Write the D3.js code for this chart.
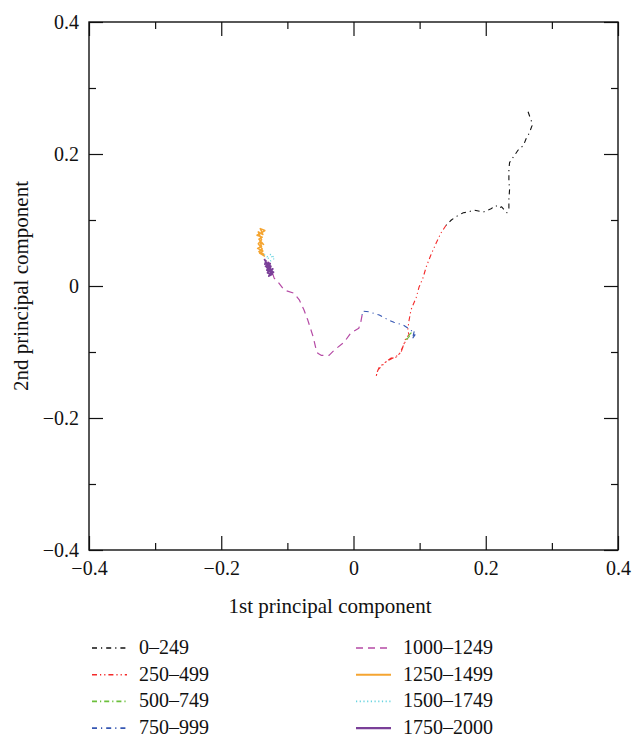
<!DOCTYPE html>
<html>
<head>
<meta charset="utf-8">
<script src="https://cdn.jsdelivr.net/npm/d3@7"></script>
<style>
    body { margin: 0; background: #ffffff; }
    svg text { font-family: "Liberation Serif", "DejaVu Serif", serif; fill: #111; }
</style>
</head>
<body>
<div id="chart"></div>
<script>

// series labels, in time order
let seriesNames = ["0\u2013249", "250\u2013499", "500\u2013749", "750\u2013999",
    "1000\u20131249", "1250\u20131499", "1500\u20131749", "1750\u20132000"];

// [1st PC, 2nd PC]
let pts_0_249 = [
    [0.264, 0.264], [0.269, 0.250], [0.270, 0.243], [0.266, 0.232], [0.261, 0.223],
    [0.257, 0.213], [0.249, 0.206], [0.242, 0.196], [0.236, 0.187], [0.235, 0.176],
    [0.235, 0.161], [0.236, 0.146], [0.235, 0.131], [0.235, 0.118], [0.232, 0.111],
    [0.224, 0.120], [0.220, 0.118], [0.215, 0.122], [0.208, 0.117], [0.203, 0.115],
    [0.196, 0.112], [0.182, 0.115], [0.173, 0.112], [0.166, 0.111], [0.155, 0.105],
    [0.148, 0.100], [0.140, 0.092]
];
let pts_250_499 = [
    [0.140, 0.092], [0.132, 0.080], [0.125, 0.065], [0.117, 0.047], [0.110, 0.029],
    [0.105, 0.012], [0.099, -0.002], [0.095, -0.017], [0.087, -0.036], [0.084, -0.052],
    [0.082, -0.067], [0.084, -0.074], [0.079, -0.079], [0.076, -0.089], [0.072, -0.100],
    [0.064, -0.108], [0.057, -0.109], [0.046, -0.117], [0.039, -0.123], [0.036, -0.130],
    [0.034, -0.138], [0.037, -0.127], [0.049, -0.115], [0.069, -0.104], [0.078, -0.085],
    [0.085, -0.076]
];
let pts_500_749 = [
    [0.085, -0.076], [0.081, -0.080], [0.078, -0.083], [0.082, -0.077], [0.087, -0.071],
    [0.090, -0.076]
];
let pts_750_999 = [
    [0.090, -0.076], [0.092, -0.068], [0.089, -0.080], [0.093, -0.074], [0.087, -0.067],
    [0.075, -0.059], [0.061, -0.055], [0.054, -0.052], [0.039, -0.044], [0.023, -0.039],
    [0.014, -0.038], [0.013, -0.044]
];
let pts_1000_1249 = [
    [0.013, -0.044], [0.011, -0.055], [0.008, -0.064], [-0.004, -0.071], [-0.014, -0.085],
    [-0.029, -0.097], [-0.037, -0.105], [-0.049, -0.105], [-0.054, -0.102], [-0.057, -0.094],
    [-0.061, -0.077], [-0.069, -0.052], [-0.075, -0.036], [-0.082, -0.021], [-0.090, -0.011],
    [-0.105, -0.006], [-0.114, 0.006], [-0.120, 0.012], [-0.126, 0.030], [-0.132, 0.042]
];
let pts_1250_1499 = [
    [-0.134, 0.045], [-0.142, 0.050], [-0.137, 0.053], [-0.145, 0.057], [-0.139, 0.060],
    [-0.141, 0.066], [-0.136, 0.063], [-0.143, 0.071], [-0.138, 0.074], [-0.146, 0.077],
    [-0.140, 0.080], [-0.134, 0.084], [-0.141, 0.087], [-0.137, 0.078], [-0.144, 0.082],
    [-0.139, 0.070], [-0.144, 0.064], [-0.138, 0.056], [-0.143, 0.052], [-0.135, 0.048]
];
let pts_1500_1749 = [
    [-0.135, 0.048], [-0.131, 0.044], [-0.125, 0.048], [-0.119, 0.042], [-0.125, 0.038],
    [-0.129, 0.042], [-0.122, 0.045]
];
let pts_1750_2000 = [
    [-0.132, 0.039], [-0.134, 0.033], [-0.128, 0.035], [-0.131, 0.028], [-0.125, 0.030],
    [-0.129, 0.023], [-0.122, 0.026], [-0.127, 0.018], [-0.121, 0.021], [-0.131, 0.024],
    [-0.126, 0.034], [-0.133, 0.030], [-0.124, 0.024], [-0.128, 0.015], [-0.123, 0.018],
    [-0.130, 0.020], [-0.126, 0.027], [-0.132, 0.036], [-0.135, 0.041]
];

let allSeries = [pts_0_249, pts_250_499, pts_500_749, pts_750_999,
    pts_1000_1249, pts_1250_1499, pts_1500_1749, pts_1750_2000];

let axisTicks = [-0.4, -0.3, -0.2, -0.1, 0, 0.1, 0.2, 0.3, 0.4];
let axisLabels = [-0.4, -0.2, 0, 0.2, 0.4];

main();

function main() {

    let width = 632, height = 737;
    let left = 89, right = 618, top = 22, bottom = 550;

    // colour, dash, width per series
    let styles = [
        {color: "#111111", dash: "5,4,1.2,4", w: 1.1},
        {color: "#f42a2a", dash: "5,3,1.2,3,1.2,3", w: 1.1},
        {color: "#6cc03c", dash: "5,3,1.2,3", w: 1.1},
        {color: "#3657b3", dash: "5,4,1.2,4", w: 1.1},
        {color: "#b54aa5", dash: "7,5", w: 1.2},
        {color: "#f5a531", dash: null, w: 1.5},
        {color: "#68d4e0", dash: "1.2,2.5", w: 1.1},
        {color: "#7a3f98", dash: null, w: 1.8}
    ];

    let x = d3.scaleLinear().domain([-0.4, 0.4]).range([left, right]);
    let y = d3.scaleLinear().domain([-0.4, 0.4]).range([bottom, top]);

    let svg = d3.select("#chart")
        .append("svg")
        .attr("width", width)
        .attr("height", height);

    let fmt = function (d) {
        if (axisLabels.indexOf(d) < 0) return "";
        return d === 0 ? "0" : d3.format(".1f")(d).replace("-", "\u2212");
    };
    let tickLen = function (sel) {
        sel.selectAll(".tick line").attr("stroke", "#111").attr("stroke-width", 1.2);
        sel.selectAll(".tick").filter(d => axisLabels.indexOf(d) < 0)
            .select("line").each(function () {
                let l = d3.select(this);
                if (l.attr("x2") !== null && +l.attr("x2") !== 0) l.attr("x2", +l.attr("x2") / 2);
                if (l.attr("y2") !== null && +l.attr("y2") !== 0) l.attr("y2", +l.attr("y2") / 2);
            });
        sel.select(".domain").remove();
        sel.selectAll("text").attr("font-size", 20).attr("fill", "#111");
    };

    // bottom / left with labels, ticks pointing inside
    svg.append("g")
        .attr("transform", "translate(0," + bottom + ")")
        .call(d3.axisBottom(x).tickValues(axisTicks).tickSizeInner(-14).tickSizeOuter(0).tickPadding(5).tickFormat(fmt))
        .call(tickLen)
        .selectAll("text").attr("dy", "1em");
    svg.append("g")
        .attr("transform", "translate(" + left + ",0)")
        .call(d3.axisLeft(y).tickValues(axisTicks).tickSizeInner(-14).tickSizeOuter(0).tickPadding(10).tickFormat(fmt))
        .call(tickLen);
    // top / right, ticks only
    svg.append("g")
        .attr("transform", "translate(0," + top + ")")
        .call(d3.axisTop(x).tickValues(axisTicks).tickSizeInner(-14).tickSizeOuter(0).tickFormat(""))
        .call(tickLen);
    svg.append("g")
        .attr("transform", "translate(" + right + ",0)")
        .call(d3.axisRight(y).tickValues(axisTicks).tickSizeInner(-14).tickSizeOuter(0).tickFormat(""))
        .call(tickLen);

    svg.append("rect")
        .attr("x", left)
        .attr("y", top)
        .attr("width", right - left)
        .attr("height", bottom - top)
        .attr("fill", "none")
        .attr("stroke", "#111")
        .attr("stroke-width", 1.4);

    // trajectories
    let line = d3.line()
        .x(d => x(d[0]))
        .y(d => y(d[1]))
        .curve(d3.curveLinear);

    svg.append("g").attr("class", "paths")
        .selectAll("path")
        .data(allSeries)
        .enter()
        .append("path")
        .attr("d", line)
        .attr("fill", "none")
        .attr("stroke", (d, i) => styles[i].color)
        .attr("stroke-width", (d, i) => styles[i].w)
        .attr("stroke-dasharray", (d, i) => styles[i].dash)
        .attr("stroke-linejoin", "round");

    // axis titles
    svg.append("text")
        .attr("x", 330)
        .attr("y", 613)
        .attr("text-anchor", "middle")
        .attr("font-size", 21)
        .text("1st principal component");
    svg.append("text")
        .attr("transform", "translate(28," + ((top + bottom) / 2) + ") rotate(-90)")
        .attr("text-anchor", "middle")
        .attr("font-size", 21)
        .text("2nd principal component");

    // legend, two columns of four
    let lg = svg.append("g").attr("class", "legend");
    let items = lg.selectAll(".item")
        .data(seriesNames)
        .enter()
        .append("g")
        .attr("class", "item")
        .attr("transform", (d, i) => {
            let col = Math.floor(i / 4), row = i % 4;
            return "translate(" + (92 + col * 264) + "," + (648 + row * 26.7) + ")";
        });
    items.append("line")
        .attr("x1", 0).attr("x2", 35)
        .attr("y1", 0).attr("y2", 0)
        .attr("stroke", (d, i) => styles[i].color)
        .attr("stroke-width", (d, i) => styles[i].w + 0.5)
        .attr("stroke-dasharray", (d, i) => styles[i].dash);
    items.append("text")
        .attr("x", 47)
        .attr("y", 6)
        .attr("font-size", 20)
        .text(d => d);
}
</script>
</body>
</html>
